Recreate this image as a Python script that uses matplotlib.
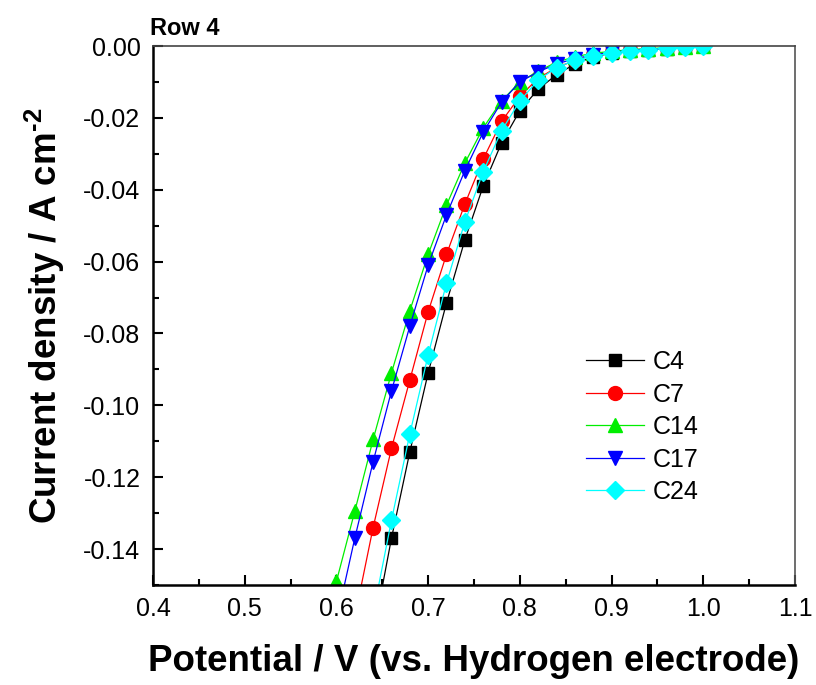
import matplotlib
matplotlib.use('Agg')
import matplotlib.pyplot as plt
from matplotlib.ticker import MultipleLocator

plt.rcParams['font.family'] = ['Liberation Sans', 'DejaVu Sans']
plt.rcParams['mathtext.fontset'] = 'custom'
plt.rcParams['mathtext.rm'] = 'Liberation Sans:bold'

# potential (V) and current density (A cm-2)
x_c4 = [0.64, 0.66, 0.68, 0.70, 0.72, 0.74, 0.76, 0.78, 0.80, 0.82, 0.84, 0.86, 0.88, 0.90, 0.92, 0.94, 0.96, 0.98, 1.00]
y_c4 = [-0.164, -0.137, -0.113, -0.091, -0.0715, -0.054, -0.039, -0.027, -0.018, -0.012, -0.008, -0.005, -0.003, -0.002, -0.0015, -0.001, -0.0007, -0.0004, 0.0]

x_c7 = [0.62, 0.64, 0.66, 0.68, 0.70, 0.72, 0.74, 0.76, 0.78, 0.80, 0.82, 0.84, 0.86, 0.88, 0.90, 0.92, 0.94, 0.96, 0.98, 1.00]
y_c7 = [-0.159, -0.134, -0.112, -0.093, -0.074, -0.058, -0.044, -0.0315, -0.021, -0.014, -0.009, -0.006, -0.004, -0.0025, -0.0018, -0.0012, -0.0009, -0.0006, -0.0003, 0.0]

x_c14 = [0.58, 0.60, 0.62, 0.64, 0.66, 0.68, 0.70, 0.72, 0.74, 0.76, 0.78, 0.80, 0.82, 0.84, 0.86, 0.88, 0.90, 0.92, 0.94, 0.96, 0.98, 1.00]
y_c14 = [-0.171, -0.149, -0.1295, -0.1095, -0.091, -0.0737, -0.058, -0.0443, -0.0326, -0.0228, -0.0153, -0.010, -0.007, -0.0045, -0.003, -0.002, -0.0015, -0.001, -0.0007, -0.0005, -0.0002, 0.0]

x_c17 = [0.60, 0.62, 0.64, 0.66, 0.68, 0.70, 0.72, 0.74, 0.76, 0.78, 0.80, 0.82, 0.84, 0.86, 0.88, 0.90, 0.92, 0.94, 0.96, 0.98, 1.00]
y_c17 = [-0.160, -0.137, -0.1157, -0.096, -0.078, -0.061, -0.047, -0.0347, -0.024, -0.0156, -0.010, -0.0072, -0.005, -0.0035, -0.0025, -0.0018, -0.0012, -0.0009, -0.0006, -0.0003, 0.0]

x_c24 = [0.64, 0.66, 0.68, 0.70, 0.72, 0.74, 0.76, 0.78, 0.80, 0.82, 0.84, 0.86, 0.88, 0.90, 0.92, 0.94, 0.96, 0.98, 1.00]
y_c24 = [-0.158, -0.132, -0.108, -0.086, -0.066, -0.049, -0.035, -0.0236, -0.0153, -0.0095, -0.006, -0.004, -0.0028, -0.002, -0.0014, -0.001, -0.0006, -0.0003, 0.0]

series = [
    ('C4', x_c4, y_c4, 'black', 's', 8.5),
    ('C7', x_c7, y_c7, 'red', 'o', 10),
    ('C14', x_c14, y_c14, '#00ee00', '^', 10),
    ('C17', x_c17, y_c17, 'blue', 'v', 10),
    ('C24', x_c24, y_c24, 'cyan', 'D', 9),
]

fig = plt.figure(figsize=(8.16, 6.85), dpi=100)
ax = fig.add_axes([153/816, 1 - 585/685, (795-153)/816, (585-46)/685])

for name, xs, ys, c, m, ms in series:
    ax.plot(xs, ys, color=c, marker=m, markersize=ms, linewidth=0.9, label=name)

ax.set_xlim(0.4, 1.1)
ax.set_ylim(-0.15, 0.0)
ax.xaxis.set_minor_locator(MultipleLocator(0.05))
ax.yaxis.set_minor_locator(MultipleLocator(0.01))
ax.set_xticks([0.4, 0.5, 0.6, 0.7, 0.8, 0.9, 1.0, 1.1])
ax.set_xticklabels(['0.4', '0.5', '0.6', '0.7', '0.8', '0.9', '1.0', '1.1'])
ax.set_yticks([0.0, -0.02, -0.04, -0.06, -0.08, -0.10, -0.12, -0.14])
ax.set_yticklabels(['0.00', '-0.02', '-0.04', '-0.06', '-0.08', '-0.10', '-0.12', '-0.14'])
ax.tick_params(which='both', direction='in', top=False, right=False, labelsize=18, width=1.5)
ax.tick_params(which='major', length=7, pad=9)
ax.tick_params(which='minor', length=4)

ax.spines['left'].set_linewidth(1.8)
ax.spines['bottom'].set_linewidth(1.8)
ax.spines['top'].set_linewidth(1.2)
ax.spines['right'].set_linewidth(1.2)
ax.spines['top'].set_color('#444444')
ax.spines['right'].set_color('#555555')

ax.set_xlabel('Potential / V (vs. Hydrogen electrode)', fontsize=26.5, fontweight='bold', labelpad=16)
ax.set_ylabel('Current density / A cm$^{\\text{-2}}$', fontsize=26.5, fontweight='bold', labelpad=12)
ax.set_title('Row 4', fontsize=17, fontweight='bold', loc='left', x=-0.005, pad=8)

ax.legend(loc='upper left', bbox_to_anchor=(586/816, 1 - 350/685), bbox_transform=fig.transFigure,
          frameon=False, fontsize=18, borderpad=0, borderaxespad=0,
          handlelength=2.3, labelspacing=0.34, handletextpad=0.35)

fig.savefig('out.png', dpi=100)
